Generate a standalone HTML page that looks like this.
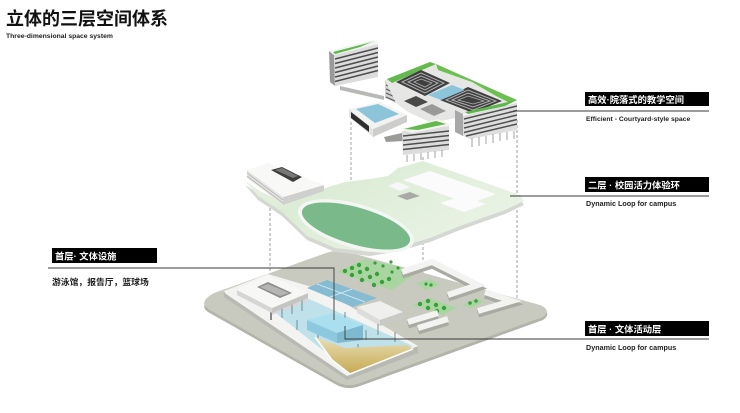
<!DOCTYPE html>
<html><head><meta charset="utf-8"><style>
html,body{margin:0;padding:0;background:#fff;}
svg{display:block;}
text{font-family:"Liberation Sans","Noto Sans CJK SC",sans-serif;}
</style></head><body>
<svg width="740" height="413" viewBox="0 0 740 413" xmlns="http://www.w3.org/2000/svg">
<defs>
<linearGradient id="sand" x1="0" y1="0" x2="0" y2="1"><stop offset="0" stop-color="#e8dfb6"/><stop offset="1" stop-color="#c6a850"/></linearGradient>
<linearGradient id="loopg" x1="0" y1="0" x2="1" y2="0.6"><stop offset="0" stop-color="#eef3ec"/><stop offset="0.35" stop-color="#dcecd6"/><stop offset="1" stop-color="#eaf3e6"/></linearGradient>
</defs>
<rect width="740" height="413" fill="#fff"/>
<!-- title -->
<text x="6" y="25" font-size="18" font-weight="700" fill="#111">立体的三层空间体系</text>
<text x="6" y="38" font-size="6.8" font-weight="700" fill="#222">Three-dimensional space system</text>

<!-- dashed guides -->
<g stroke="#8a8a8a" stroke-width="0.8" stroke-dasharray="3 2" fill="none">
<line x1="270" y1="198" x2="270" y2="278"/>
<line x1="351" y1="122" x2="351" y2="210"/>
<line x1="423" y1="157" x2="423" y2="320"/>
<line x1="517" y1="120" x2="517" y2="302"/>
</g>

<!-- ===== GROUND LAYER ===== -->
<path d="M214,296 L326,256 Q337,252 348,255 L540,308 Q553,313 543,320 L360,386 Q347,391 335,384 L208,312 Q198,305 214,296 Z" fill="#b2b4aa"/>
<path d="M214,293 L326,253 Q337,249 348,252 L540,305 Q552,310 543,317 L360,383 Q347,388 335,381 L208,309 Q198,302 214,293 Z" fill="#c8cac0"/>
<!-- lawns -->
<polygon points="337,272 365,259 420,271 392,290" fill="#a9d6a0"/>
<polygon points="416,283 430,279 440,285 426,290" fill="#a9d6a0"/>
<polygon points="412,305 430,298 457,308 443,315" fill="#a9d6a0"/>
<polygon points="462,305 477,298 484,302 470,308" fill="#a9d6a0"/>
<g fill="#3b9e3a">
<circle cx="345" cy="271" r="2.2"/><circle cx="352" cy="268" r="2.2"/><circle cx="359" cy="265" r="2.2"/>
<circle cx="352" cy="275" r="2.2"/><circle cx="360" cy="272" r="2.2"/><circle cx="367" cy="269" r="2.2"/>
<circle cx="362" cy="280" r="2.2"/><circle cx="370" cy="277" r="2.2"/><circle cx="377" cy="274" r="2.2"/>
<circle cx="374" cy="285" r="2.2"/><circle cx="382" cy="282" r="2.2"/><circle cx="389" cy="279" r="2.2"/>
<circle cx="375" cy="263" r="1.6"/><circle cx="383" cy="266" r="1.6"/><circle cx="391" cy="262" r="1.6"/>
<circle cx="398" cy="268" r="1.6"/><circle cx="405" cy="270" r="1.6"/><circle cx="392" cy="272" r="1.6"/>
<circle cx="426" cy="284" r="1.6"/><circle cx="431" cy="285" r="1.6"/>
<circle cx="420" cy="304" r="2.2"/><circle cx="428" cy="301" r="2.2"/><circle cx="428" cy="308" r="2.2"/>
<circle cx="436" cy="305" r="2.2"/><circle cx="444" cy="308" r="2.2"/><circle cx="437" cy="311" r="2.2"/>
<circle cx="470" cy="303" r="1.8"/><circle cx="476" cy="301" r="1.8"/>
</g>
<!-- white bars -->
<g stroke="#a9aba3" stroke-width="7" fill="none" stroke-linejoin="miter">
<polyline points="402,275 432,265 478,288 448,298"/>
<polyline points="485,295 512,304 478,314"/>
<line x1="408" y1="325" x2="438" y2="316"/>
<line x1="418" y1="331" x2="448" y2="322"/>
</g>
<g stroke="#f3f3f1" stroke-width="6" fill="none" stroke-linejoin="miter">
<polyline points="402,272 432,262 478,285 448,295"/>
<polyline points="485,292 512,301 478,311"/>
<line x1="408" y1="322" x2="438" y2="313"/>
<line x1="418" y1="328" x2="448" y2="319"/>
</g>
<!-- white base under left complex -->
<polygon points="224,293 268,276 322,292 418,348 418,353 347,380 224,297" fill="#b7b9b2"/>
<polygon points="224,291 268,274 322,290 418,346 347,376 226,294" fill="#f3f3f1"/>
<!-- central white box -->
<polygon points="380,320 403,312 403,318 380,326" fill="#c9c9c6"/>
<polygon points="357,307 380,320 380,326 357,313" fill="#dcdcda"/>
<polygon points="357,307 380,301 403,312 380,320" fill="#efefed"/>
<!-- blue tile courts -->
<polygon points="307,288 327,280 377,298 353,307" fill="#86bcd2"/>
<g stroke="#dceef5" stroke-width="0.8"><line x1="317" y1="284" x2="365" y2="302"/><line x1="330" y1="297" x2="352" y2="289"/></g>
<!-- glass hall -->
<polygon points="272,310 307,298 413,346 348,370" fill="#bfe1ea"/>
<polygon points="270,311 272,310 272,320 270,320" fill="#888"/>
<polygon points="272,310 307,298 307,302 272,315" fill="#d8d8d6"/>
<g stroke="#6f8f98" stroke-width="1">
<line x1="282" y1="307" x2="282" y2="318"/><line x1="292" y1="303" x2="292" y2="314"/><line x1="302" y1="300" x2="302" y2="311"/>
<line x1="297" y1="320" x2="297" y2="330"/><line x1="318" y1="332" x2="318" y2="342"/><line x1="345" y1="312" x2="345" y2="324"/>
<line x1="366" y1="330" x2="366" y2="340"/><line x1="378" y1="324" x2="378" y2="335"/><line x1="395" y1="332" x2="395" y2="342"/>
<line x1="358" y1="344" x2="358" y2="354"/>
</g>
<!-- raised blue boxes -->
<polygon points="307,320 307,330 337,343 337,333" fill="#8cc9de"/>
<polygon points="307,320 333,313 363,325 337,333" fill="#aadff0"/>
<polygon points="337,333 337,343 363,340 363,325" fill="#7fb9cf"/>
<!-- sand wedge -->
<polygon points="315,337 345,348 407,345 413,349 350,374 332,360" fill="url(#sand)"/>
<polyline points="315,337 332,360 350,374 413,349" fill="none" stroke="#fff" stroke-width="1.5"/>
<!-- left white building -->
<polygon points="237,290 272,308 272,313 237,295" fill="#d5d5d3"/>
<polygon points="272,308 308,293 308,298 272,313" fill="#c4c4c2"/>
<polygon points="237,290 268,275 308,293 272,308" fill="#f7f7f5"/>
<polygon points="257,287 268,282 292,293 280,298" fill="#8c8c8a"/>
<polygon points="260,287 268,284 289,293 280,296" fill="#b5b5b3"/>

<!-- ===== MIDDLE LAYER ===== -->
<path d="M245,185 L262,196 L283,206 L300,203 L325,192 L345,186 L370,183 L388,180 L398,172 L423,165 L520,199 L524,205 L505,214 L460,230 L430,242 L400,251 L370,256 L335,252 L307,240 L282,216 L258,200 Z" fill="#d4d7d2"/>
<path d="M245,181 L262,192 L283,202 L300,199 L325,188 L345,182 L370,179 L388,176 L398,168 L423,161 L520,195 L524,201 L505,210 L460,226 L430,238 L400,247 L370,252 L335,248 L307,236 L282,212 L258,196 Z" fill="url(#loopg)"/>
<!-- white cutouts in loop -->
<polygon points="403,180 430,171 496,194 469,204" fill="#fbfbfb"/>
<polygon points="440,203 462,196 486,204 464,212" fill="#fbfbfb"/>
<polygon points="388,186 398,182 410,187 400,191" fill="#f7f7f7"/>
<polygon points="397,196 410,192 420,196 407,200" fill="#a9aaa8"/>
<!-- green oval -->
<ellipse cx="356" cy="226" rx="60" ry="22" transform="rotate(16 356 226)" fill="#f4f6f3"/>
<ellipse cx="356" cy="226" rx="56" ry="18.5" transform="rotate(16 356 226)" fill="#79b98a"/>
<!-- left building on loop -->
<polygon points="247,170 283,197 283,205 247,178" fill="#e3e3e1"/>
<g stroke="#aaa" stroke-width="0.7"><line x1="247" y1="173" x2="283" y2="200"/><line x1="247" y1="176" x2="283" y2="203"/></g>
<polygon points="283,197 324,185 324,191 283,205" fill="#cfcfcd"/>
<polygon points="247,170 268,163 324,185 283,197" fill="#f8f8f6"/>
<polygon points="271,170 282,167 302,177 293,182" fill="#3e3e3e"/>
<polygon points="275,170 282,168 298,176 293,178" fill="#777"/>

<!-- ===== TOP LAYER ===== -->
<!-- slab building -->
<polygon points="329,51 334,55 335,86 330,82" fill="#9a9a9a"/>
<polygon points="334,55 378,44 378,77 335,86" fill="#dcdcdc"/>
<g stroke="#4e4e4e" stroke-width="1.6">
<line x1="335" y1="59" x2="378" y2="48"/><line x1="335" y1="63.5" x2="378" y2="52.5"/><line x1="335" y1="68" x2="378" y2="57"/>
<line x1="335" y1="72.5" x2="378" y2="61.5"/><line x1="335" y1="77" x2="378" y2="66"/><line x1="335" y1="81.5" x2="378" y2="70.5"/>
</g>
<polygon points="329,51 374,40 378,44 334,55" fill="#f2f2f2"/>
<polygon points="333,52 368,43 374,41 360,47 335,54" fill="#5cb84a"/>
<!-- bridge -->
<polygon points="340,86 384,96 384,100 340,90" fill="#b8b8b6"/>
<!-- main block left wing face -->
<polygon points="385,80 396,85 396,103 385,98" fill="#d2d2d2"/>
<g stroke="#555" stroke-width="1"><line x1="386" y1="85" x2="395" y2="89"/><line x1="386" y1="89" x2="395" y2="93"/><line x1="386" y1="93" x2="395" y2="97"/><line x1="386" y1="97" x2="395" y2="101"/></g>
<!-- main roof -->
<polygon points="385,80 430,62 517,100 463,114 455,118 432,123 408,112 396,103" fill="#e6e6e4"/>
<polygon points="387,79 430,62 436,64 392,83" fill="#62b94c"/>
<polygon points="436,64 517,100 510,103 496,96 472,82 438,70" fill="#6cc052"/>
<!-- courtyards -->
<polygon points="396,82 421,70 450,83 425,96" fill="#3f3f3f"/>
<polygon points="402,82 421,73 444,83 425,93" fill="none" stroke="#b0b0b0" stroke-width="1"/>
<polygon points="408,82 421,76 438,83 425,90" fill="none" stroke="#b0b0b0" stroke-width="1"/>
<polygon points="414,82 421,79 432,83 425,87" fill="none" stroke="#b0b0b0" stroke-width="0.8"/>
<polygon points="440,100 468,87 502,101 473,113" fill="#3f3f3f"/>
<polygon points="446,100 468,90 496,101 473,110" fill="none" stroke="#b0b0b0" stroke-width="1"/>
<polygon points="452,100 468,93 490,101 473,107" fill="none" stroke="#b0b0b0" stroke-width="1"/>
<polygon points="458,100 468,96 484,101 473,104" fill="none" stroke="#b0b0b0" stroke-width="0.8"/>
<polygon points="428,95 452,85 465,90 441,100" fill="#8cc4da"/>
<polygon points="404,101 416,96 428,102 416,107" fill="#4a4a4a"/>
<polygon points="420,109 432,104 446,111 434,116" fill="#9a9a98"/>
<!-- right block -->
<polygon points="455,110 463,114 463,136 455,132" fill="#a8a8a8"/>
<polygon points="463,114 517,101 517,130 470,139 463,136" fill="#dedede"/>
<g stroke="#505050" stroke-width="1.5">
<line x1="464" y1="119" x2="517" y2="106"/><line x1="464" y1="123.5" x2="517" y2="110.5"/><line x1="464" y1="128" x2="517" y2="115"/><line x1="464" y1="132.5" x2="517" y2="119.5"/><line x1="466" y1="136" x2="517" y2="124"/>
</g>
<polygon points="463,114 517,101 517,103 463,116" fill="#f4f4f4"/>
<polygon points="465,112 512,101 517,100 505,106 468,114" fill="#5cb84a"/>
<g stroke="#8a8a8a" stroke-width="0.8">
<line x1="472" y1="138" x2="472" y2="147"/><line x1="479" y1="137" x2="479" y2="146"/><line x1="486" y1="136" x2="486" y2="144"/><line x1="493" y1="134" x2="493" y2="143"/><line x1="500" y1="133" x2="500" y2="141"/><line x1="507" y1="132" x2="507" y2="140"/><line x1="514" y1="131" x2="514" y2="139"/>
</g>
<!-- pool box -->
<polygon points="349,109 373,129 373,137 349,117" fill="#e4e4e2"/>
<polygon points="351,112 369,126 369,132 351,118" fill="#2e2e2e"/>
<polygon points="373,129 407,115 407,122 373,137" fill="#cdcdcb"/>
<polygon points="349,109 380,102 407,115 373,129" fill="#f3f3f1"/>
<polygon points="356,109 378,104 399,114 375,123" fill="#8cc4da"/>
<!-- small block -->
<polygon points="384,137 402,133 403,141 386,142" fill="#9a9a98"/>
<polygon points="402,131 449,126 449,150 403,155" fill="#dcdcdc"/>
<g stroke="#4e4e4e" stroke-width="1.5">
<line x1="403" y1="136" x2="449" y2="131"/><line x1="403" y1="140.5" x2="449" y2="135.5"/><line x1="403" y1="145" x2="449" y2="140"/><line x1="403" y1="149.5" x2="449" y2="144.5"/>
</g>
<polygon points="400,129 438,119 452,125 412,133" fill="#f4f4f2"/>
<polygon points="404,129 436,121 446,124 418,130" fill="#62b94c"/>
<g stroke="#8a8a8a" stroke-width="0.8">
<line x1="407" y1="155" x2="407" y2="162"/><line x1="414" y1="154" x2="414" y2="161"/><line x1="421" y1="153" x2="421" y2="160"/><line x1="428" y1="152" x2="428" y2="159"/><line x1="435" y1="151" x2="435" y2="158"/><line x1="442" y1="150" x2="442" y2="157"/>
</g>

<!-- connector lines -->
<g stroke="#3a3a3a" stroke-width="0.9" fill="none">
<line x1="513" y1="111" x2="709" y2="111"/>
<line x1="510" y1="196" x2="709" y2="196"/>
<polyline points="48,268 334,268 334,320"/>
<polyline points="345,326 345,339 709,339"/>
</g>

<!-- labels -->
<rect x="585" y="92" width="124" height="14" fill="#000"/>
<text x="588" y="103" font-size="9.3" font-weight="700" fill="#fff">高效·院落式的教学空间</text>
<text x="586" y="121" font-size="6.8" font-weight="700" fill="#222">Efficient - Courtyard-style space</text>

<rect x="585" y="177" width="124" height="15" fill="#000"/>
<text x="588" y="188.5" font-size="9.3" font-weight="700" fill="#fff">二层 · 校园活力体验环</text>
<text x="586" y="206" font-size="7.2" font-weight="700" fill="#222">Dynamic Loop for campus</text>

<rect x="52" y="248" width="105" height="15" fill="#000"/>
<text x="55" y="259.5" font-size="9.3" font-weight="700" fill="#fff">首层· 文体设施</text>
<text x="52" y="285" font-size="8.8" font-weight="700" fill="#222">游泳馆，报告厅，篮球场</text>

<rect x="585" y="321" width="124" height="15" fill="#000"/>
<text x="588" y="332.5" font-size="9.3" font-weight="700" fill="#fff">首层 · 文体活动层</text>
<text x="586" y="350" font-size="7.2" font-weight="700" fill="#222">Dynamic Loop for campus</text>
</svg>
</body></html>
